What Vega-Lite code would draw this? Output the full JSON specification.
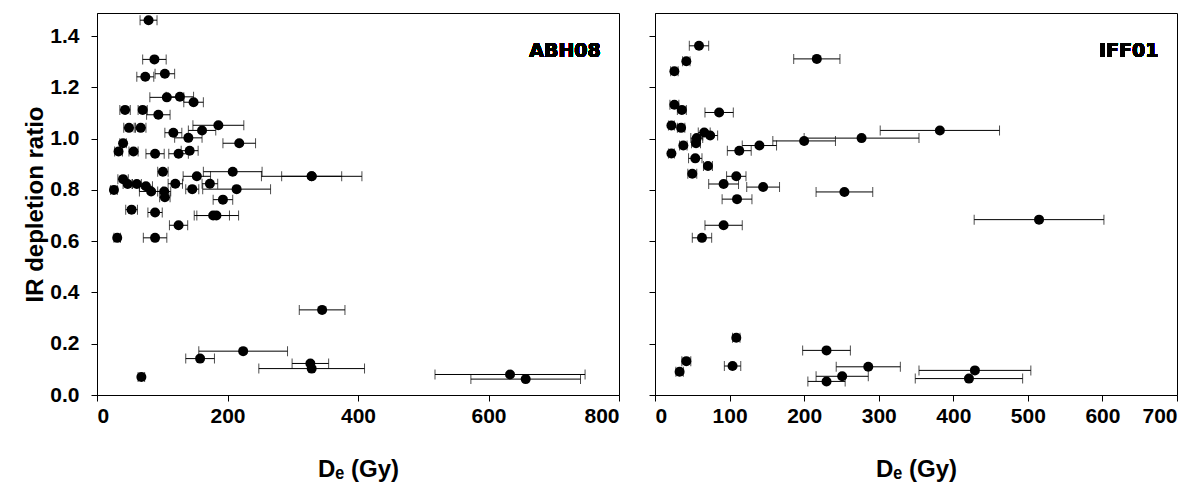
{
  "$schema": "https://vega.github.io/schema/vega-lite/v6.json",
  "background": "white",
  "padding": {"left": 23, "top": 12, "right": 5, "bottom": 5},
  "spacing": 28,
  "config": {
    "view": {"stroke": "black", "strokeWidth": 1},
    "axis": {
      "domainColor": "black", "tickColor": "black", "labelColor": "black", "titleColor": "black",
      "labelFont": "Liberation Sans", "labelFontWeight": "bold", "labelFontSize": 21,
      "titleFont": "Liberation Sans", "titleFontWeight": "bold", "titleFontSize": 24,
      "tickSize": 6, "grid": false
    },
    "axisX": {"labelPadding": 4, "titlePadding": 31},
    "axisY": {"labelPadding": 12, "titlePadding": 2}
  },
  "datasets": {
    "abh": [
      {"de": 79, "err": 13, "r": 1.462}, {"de": 88, "err": 18, "r": 1.309}, {"de": 74, "err": 13, "r": 1.241},
      {"de": 104, "err": 15, "r": 1.253}, {"de": 107, "err": 26, "r": 1.161}, {"de": 127, "err": 21, "r": 1.163},
      {"de": 148, "err": 15, "r": 1.142}, {"de": 43, "err": 8, "r": 1.112}, {"de": 70, "err": 7, "r": 1.112},
      {"de": 94, "err": 18, "r": 1.093}, {"de": 49, "err": 8, "r": 1.042}, {"de": 67, "err": 8, "r": 1.042},
      {"de": 186, "err": 39, "r": 1.052}, {"de": 161, "err": 21, "r": 1.032}, {"de": 117, "err": 13, "r": 1.023},
      {"de": 140, "err": 21, "r": 1.003}, {"de": 218, "err": 25, "r": 0.982}, {"de": 40, "err": 5, "r": 0.982},
      {"de": 33, "err": 6, "r": 0.95}, {"de": 56, "err": 7, "r": 0.95}, {"de": 89, "err": 14, "r": 0.941},
      {"de": 125, "err": 15, "r": 0.941}, {"de": 142, "err": 13, "r": 0.953}, {"de": 101, "err": 8, "r": 0.871},
      {"de": 208, "err": 45, "r": 0.871}, {"de": 153, "err": 21, "r": 0.853}, {"de": 40, "err": 8, "r": 0.842},
      {"de": 329, "err": 46, "r": 0.853}, {"de": 329, "err": 77, "r": 0.853}, {"de": 26, "err": 5, "r": 0.8},
      {"de": 47, "err": 7, "r": 0.823}, {"de": 61, "err": 7, "r": 0.823}, {"de": 75, "err": 10, "r": 0.814},
      {"de": 83, "err": 18, "r": 0.794}, {"de": 103, "err": 10, "r": 0.794}, {"de": 104, "err": 8, "r": 0.771},
      {"de": 120, "err": 11, "r": 0.824}, {"de": 146, "err": 10, "r": 0.803}, {"de": 173, "err": 12, "r": 0.824},
      {"de": 214, "err": 52, "r": 0.803}, {"de": 193, "err": 15, "r": 0.762}, {"de": 53, "err": 9, "r": 0.723},
      {"de": 89, "err": 11, "r": 0.712}, {"de": 178, "err": 25, "r": 0.7}, {"de": 183, "err": 34, "r": 0.7},
      {"de": 125, "err": 14, "r": 0.662}, {"de": 31, "err": 5, "r": 0.613}, {"de": 89, "err": 18, "r": 0.613},
      {"de": 345, "err": 35, "r": 0.332}, {"de": 224, "err": 68, "r": 0.171}, {"de": 158, "err": 22, "r": 0.142},
      {"de": 327, "err": 28, "r": 0.123}, {"de": 329, "err": 81, "r": 0.103}, {"de": 68, "err": 5, "r": 0.07},
      {"de": 633, "err": 115, "r": 0.08}, {"de": 657, "err": 84, "r": 0.062}
    ],
    "iff": [
      {"de": 59, "err": 13, "r": 1.362}, {"de": 42, "err": 5, "r": 1.302}, {"de": 26, "err": 5, "r": 1.263},
      {"de": 217, "err": 31, "r": 1.311}, {"de": 26, "err": 6, "r": 1.132}, {"de": 36, "err": 6, "r": 1.112},
      {"de": 86, "err": 19, "r": 1.102}, {"de": 22, "err": 4, "r": 1.051}, {"de": 35, "err": 5, "r": 1.042},
      {"de": 56, "err": 8, "r": 1.002}, {"de": 66, "err": 8, "r": 1.024}, {"de": 74, "err": 10, "r": 1.012},
      {"de": 55, "err": 6, "r": 0.982}, {"de": 38, "err": 5, "r": 0.973}, {"de": 22, "err": 4, "r": 0.942},
      {"de": 113, "err": 16, "r": 0.953}, {"de": 140, "err": 23, "r": 0.973}, {"de": 200, "err": 42, "r": 0.991},
      {"de": 277, "err": 77, "r": 1.002}, {"de": 382, "err": 80, "r": 1.032}, {"de": 54, "err": 9, "r": 0.923},
      {"de": 71, "err": 6, "r": 0.893}, {"de": 50, "err": 6, "r": 0.863}, {"de": 109, "err": 13, "r": 0.853},
      {"de": 92, "err": 20, "r": 0.823}, {"de": 145, "err": 22, "r": 0.811}, {"de": 254, "err": 38, "r": 0.792},
      {"de": 110, "err": 20, "r": 0.764}, {"de": 92, "err": 25, "r": 0.662}, {"de": 515, "err": 87, "r": 0.684},
      {"de": 63, "err": 13, "r": 0.613}, {"de": 109, "err": 5, "r": 0.223}, {"de": 42, "err": 6, "r": 0.132},
      {"de": 33, "err": 5, "r": 0.091}, {"de": 104, "err": 11, "r": 0.113}, {"de": 230, "err": 32, "r": 0.174},
      {"de": 286, "err": 43, "r": 0.11}, {"de": 251, "err": 35, "r": 0.073}, {"de": 230, "err": 25, "r": 0.053},
      {"de": 429, "err": 75, "r": 0.096}, {"de": 421, "err": 72, "r": 0.064}
    ]
  },
  "hconcat": [
    {
      "width": 522, "height": 382,
      "data": {"name": "abh"},
      "layer": [
        {
          "mark": {"type": "errorbar", "color": "black", "thickness": 1, "ticks": {"size": 10, "thickness": 1, "color": "black"}},
          "encoding": {
            "x": {"field": "de", "type": "quantitative", "title": "Dₑ (Gy)", "scale": {"domain": [0, 800], "nice": false}},
            "xError": {"field": "err"},
            "y": {"field": "r", "type": "quantitative", "title": "IR depletion ratio", "scale": {"domain": [0, 1.49], "nice": false}}
          }
        },
        {
          "mark": {"type": "point", "filled": true, "color": "black", "opacity": 1, "size": 100},
          "encoding": {
            "x": {"field": "de", "type": "quantitative", "title": "Dₑ (Gy)", "scale": {"domain": [0, 800], "nice": false},
                  "axis": {"values": [0, 200, 400, 600, 800], "format": "d"}},
            "y": {"field": "r", "type": "quantitative", "title": "IR depletion ratio", "scale": {"domain": [0, 1.49], "nice": false},
                  "axis": {"values": [0, 0.2, 0.4, 0.6, 0.8, 1.0, 1.2, 1.4], "format": ".1f"}}
          }
        },
        {
          "mark": {"type": "text", "align": "right", "baseline": "alphabetic", "font": "DejaVu Sans", "fontWeight": "bold", "fontSize": 19, "color": "black"},
          "encoding": {
            "x": {"datum": 772, "type": "quantitative"},
            "y": {"datum": 1.32, "type": "quantitative"},
            "text": {"value": "ABH08"}
          }
        }
      ]
    },
    {
      "width": 522, "height": 382,
      "data": {"name": "iff"},
      "layer": [
        {
          "mark": {"type": "errorbar", "color": "black", "thickness": 1, "ticks": {"size": 10, "thickness": 1, "color": "black"}},
          "encoding": {
            "x": {"field": "de", "type": "quantitative", "title": "Dₑ (Gy)", "scale": {"domain": [0, 700], "nice": false}},
            "xError": {"field": "err"},
            "y": {"field": "r", "type": "quantitative", "title": null, "scale": {"domain": [0, 1.49], "nice": false}}
          }
        },
        {
          "mark": {"type": "point", "filled": true, "color": "black", "opacity": 1, "size": 100},
          "encoding": {
            "x": {"field": "de", "type": "quantitative", "title": "Dₑ (Gy)", "scale": {"domain": [0, 700], "nice": false},
                  "axis": {"values": [0, 100, 200, 300, 400, 500, 600, 700], "format": "d"}},
            "y": {"field": "r", "type": "quantitative", "title": null, "scale": {"domain": [0, 1.49], "nice": false},
                  "axis": {"values": [0, 0.2, 0.4, 0.6, 0.8, 1.0, 1.2, 1.4], "labels": false, "title": null}}
          }
        },
        {
          "mark": {"type": "text", "align": "right", "baseline": "alphabetic", "font": "DejaVu Sans", "fontWeight": "bold", "fontSize": 19, "color": "black"},
          "encoding": {
            "x": {"datum": 675, "type": "quantitative"},
            "y": {"datum": 1.32, "type": "quantitative"},
            "text": {"value": "IFF01"}
          }
        }
      ]
    }
  ]
}
